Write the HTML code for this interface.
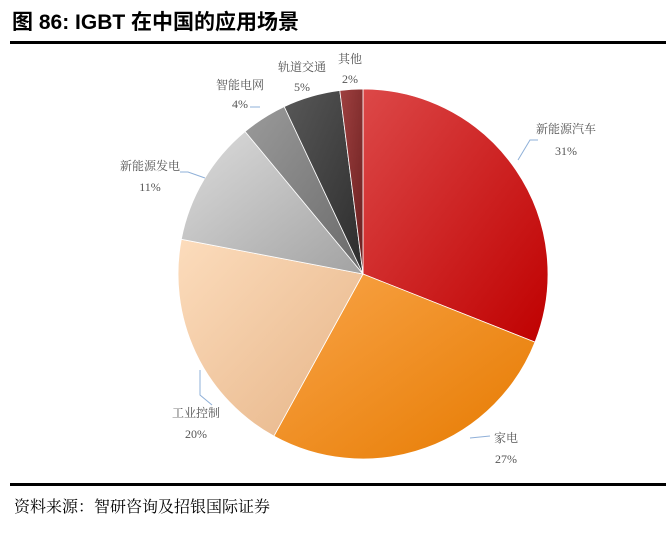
<!DOCTYPE html>
<html><head><meta charset="utf-8"><style>
html,body{margin:0;padding:0;background:#fff;width:672px;height:539px;overflow:hidden}
svg{display:block}
</style></head><body>
<svg width="672" height="539" viewBox="0 0 672 539" xmlns="http://www.w3.org/2000/svg">
<defs>
<linearGradient id="gr" x1="0" y1="0" x2="1" y2="1"><stop offset="0" stop-color="#dc4848"/><stop offset="1" stop-color="#bf0000"/></linearGradient>
<linearGradient id="go" x1="0" y1="0" x2="1" y2="1"><stop offset="0" stop-color="#f9a448"/><stop offset="1" stop-color="#e67a00"/></linearGradient>
<linearGradient id="gp" x1="0" y1="0" x2="1" y2="1"><stop offset="0" stop-color="#fcdcbc"/><stop offset="1" stop-color="#e6b487"/></linearGradient>
<linearGradient id="gl" x1="0" y1="0" x2="1" y2="1"><stop offset="0" stop-color="#dcdcdc"/><stop offset="1" stop-color="#a2a2a2"/></linearGradient>
<linearGradient id="gm" x1="0" y1="0" x2="1" y2="1"><stop offset="0" stop-color="#9a9a9a"/><stop offset="1" stop-color="#6a6a6a"/></linearGradient>
<linearGradient id="gd" x1="0" y1="0" x2="1" y2="1"><stop offset="0" stop-color="#585858"/><stop offset="1" stop-color="#2c2c2c"/></linearGradient>
<linearGradient id="gx" x1="0" y1="0" x2="1" y2="1"><stop offset="0" stop-color="#a04040"/><stop offset="1" stop-color="#6a2020"/></linearGradient>
</defs>
<text x="12" y="29" font-family="'Liberation Sans','Noto Sans CJK SC',sans-serif" font-size="21" font-weight="bold" fill="#000">图 86: IGBT 在中国的应用场景</text>
<rect x="10" y="41" width="656" height="3" fill="#000"/>
<g stroke="#fff" stroke-width="0.8">
<path d="M363,274 L363,89 A185,185 0 0 1 535,342.1 Z" fill="url(#gr)"/>
<path d="M363,274 L535,342.1 A185,185 0 0 1 273.9,436.1 Z" fill="url(#go)"/>
<path d="M363,274 L273.9,436.1 A185,185 0 0 1 181.3,239.3 Z" fill="url(#gp)"/>
<path d="M363,274 L181.3,239.3 A185,185 0 0 1 245.1,131.5 Z" fill="url(#gl)"/>
<path d="M363,274 L245.1,131.5 A185,185 0 0 1 284.2,106.6 Z" fill="url(#gm)"/>
<path d="M363,274 L284.2,106.6 A185,185 0 0 1 339.8,90.5 Z" fill="url(#gd)"/>
<path d="M363,274 L339.8,90.5 A185,185 0 0 1 363,89 Z" fill="url(#gx)"/>
</g>
<g stroke="#8fb0d8" stroke-width="1" fill="none">
<polyline points="518,160 530,140 538,140"/>
<polyline points="470,438 490,436"/>
<polyline points="212,405 200,395 200,370"/>
<polyline points="205,178 188,172 180,172"/>
<polyline points="260,107 250,107"/>
</g>
<g font-family="'Liberation Serif','Noto Serif CJK SC',serif" font-size="12" fill="#555" text-anchor="middle">
<text x="566" y="133">新能源汽车</text><text x="566" y="155">31%</text>
<text x="506" y="442">家电</text><text x="506" y="463">27%</text>
<text x="196" y="417">工业控制</text><text x="196" y="438">20%</text>
<text x="150" y="170">新能源发电</text><text x="150" y="191">11%</text>
<text x="240" y="89">智能电网</text><text x="240" y="108">4%</text>
<text x="302" y="71">轨道交通</text><text x="302" y="91">5%</text>
<text x="350" y="63">其他</text><text x="350" y="83">2%</text>
</g>
<rect x="10" y="483" width="656" height="3" fill="#000"/>
<text x="14" y="512" font-family="'Liberation Serif','Noto Serif CJK SC',serif" font-size="16" fill="#000">资料来源：智研咨询及招银国际证券</text>
</svg>
</body></html>
